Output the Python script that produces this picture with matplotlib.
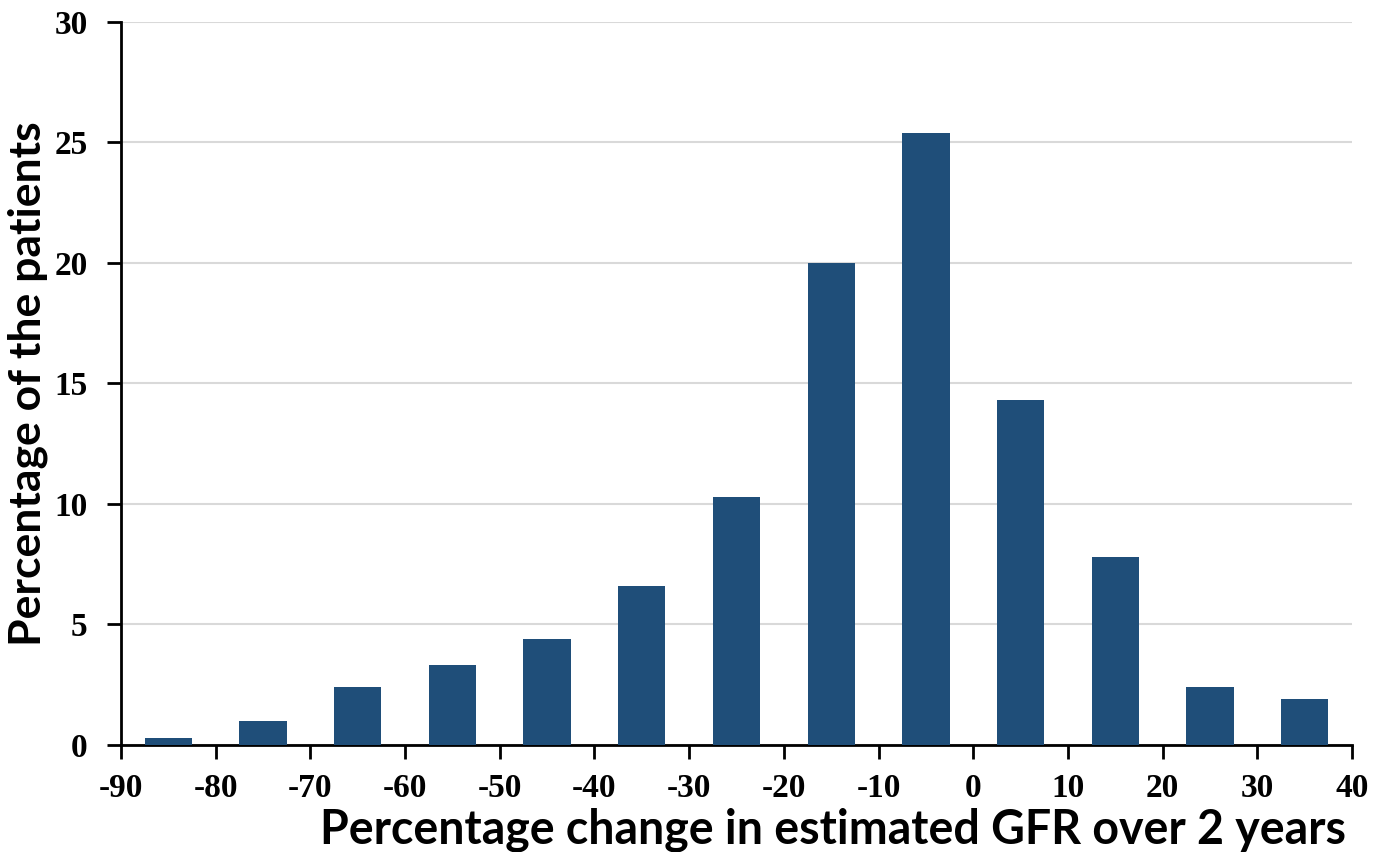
import numpy as np
import matplotlib.pyplot as plt

plt.rcParams['axes.unicode_minus'] = False

# bin centres (% change in eGFR) and share of patients
bin_centres = [-85, -75, -65, -55, -45, -35, -25, -15, -5, 5, 15, 25, 35]
pct_patients = [0.3, 1.0, 2.4, 3.3, 4.4, 6.6, 10.3, 20.0, 25.4, 14.3, 7.8, 2.4, 1.9]
x_ticks = list(range(-90, 41, 10))
y_ticks = [0, 5, 10, 15, 20, 25, 30]

fig = plt.figure(figsize=(13.8, 8.52), dpi=100)
ax = fig.add_axes([0.0877, 0.1256, 0.892, 0.8486])

ax.bar(bin_centres, pct_patients, width=5.0, color='#1F4E79', zorder=3)

ax.set_xlim(-90, 40)
ax.set_ylim(0, 30)
ax.set_xticks(x_ticks)
ax.set_yticks(y_ticks)

ax.grid(axis='y', color='#d9d9d9', linewidth=1.5, zorder=0)
ax.set_axisbelow(True)

for side in ['top', 'right']:
    ax.spines[side].set_visible(False)
ax.spines['left'].set_linewidth(2)
ax.spines['bottom'].set_linewidth(2)
ax.tick_params(axis='both', direction='out', length=10, width=2, color='black')
ax.tick_params(axis='x', pad=10)
ax.tick_params(axis='y', pad=14)
for lab in ax.get_xticklabels() + ax.get_yticklabels():
    lab.set_fontfamily('Liberation Serif')
    lab.set_fontweight('bold')
    lab.set_fontsize(24)

ax.set_xlabel('Percentage change in estimated GFR over 2 years',
              fontfamily='Lato', fontweight='bold', fontsize=33.5)
ax.set_ylabel('Percentage of the patients',
              fontfamily='Lato', fontweight='bold', fontsize=32)
ax.xaxis.set_label_coords(0.578, -0.086)
ax.yaxis.set_label_coords(-0.059, 0.5)

fig.savefig('out.png', dpi=100)
plt.close(fig)
